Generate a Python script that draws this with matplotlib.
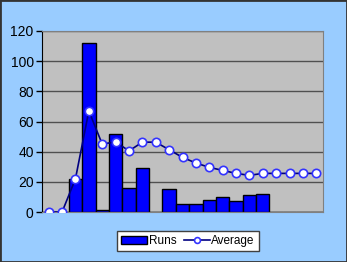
import matplotlib.pyplot as plt
import numpy as np

plt.rcParams['font.family'] = ['Liberation Sans', 'DejaVu Sans']

# one value per innings slot; 0 in runs means no bar
innings = list(range(1, 22))
runs = [0, 0, 22, 112, 1, 52, 16, 29, 0, 15, 5.5, 5.5, 8, 10, 7, 11, 12, 0, 0, 0, 0]
average = [0, 0, 22, 67, 45, 46.5, 40.5, 46.3, 46.3, 41.3, 36.2, 32.5, 29.6,
           27.6, 25.6, 24.3, 25.6, 25.6, 25.6, 25.6, 25.6]
yticks = [0, 20, 40, 60, 80, 100, 120]

fig = plt.figure(figsize=(3.47, 2.62), dpi=100, facecolor='#99CCFF')
ax = fig.add_axes([42 / 347, 1 - 212 / 262, 281 / 347, 181 / 262])
ax.set_facecolor('#C0C0C0')

x = np.arange(len(innings))
bars = ax.bar(x, runs, width=1.0, color='#0000FF', edgecolor='black',
              linewidth=1, label='Runs', zorder=2)
line, = ax.plot(x, average, color='#000080', linewidth=1.2, marker='o',
                markersize=6, markerfacecolor='white', markeredgecolor='#3333FF',
                markeredgewidth=1.2, label='Average', zorder=3)

ax.set_xlim(-0.5, len(innings) - 0.5)
ax.set_ylim(0, 120)
ax.set_yticks(yticks)
ax.set_xticks([])
ax.yaxis.grid(True, color='#505050', linewidth=1)
ax.set_axisbelow(True)
ax.tick_params(axis='y', direction='out', length=4, width=1, labelsize=10,
               colors='black', pad=2)

for side in ['top', 'right', 'bottom']:
    ax.spines[side].set_color('#808080')
ax.spines['left'].set_color('black')

fig.legend([bars, line], ['Runs', 'Average'], loc='center',
           bbox_to_anchor=(188 / 347, 1 - 241 / 262), ncol=2,
           fontsize=8.5, frameon=True, fancybox=False, edgecolor='#404040',
           framealpha=1, borderpad=0.35, handlelength=2.2, handleheight=0.6,
           handletextpad=0.15, columnspacing=0.6, markerscale=0.7)

fig.patches.append(plt.Rectangle((0, 0), 1, 1, transform=fig.transFigure,
                                 fill=False, edgecolor='#333333', linewidth=2))

fig.savefig('out.png', dpi=100, facecolor=fig.get_facecolor())
